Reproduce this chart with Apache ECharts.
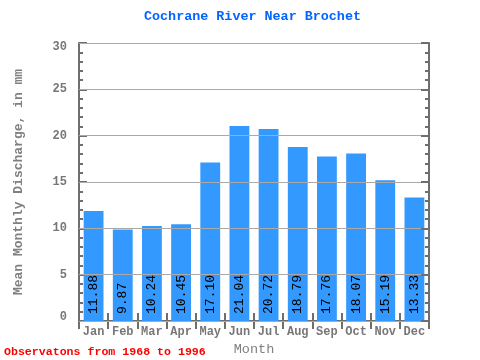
<!DOCTYPE html>
<html><head><meta charset="utf-8">
<script src="https://cdn.jsdelivr.net/npm/echarts@6/dist/echarts.min.js"></script>
<style>html,body{margin:0;padding:0;background:#fff}#c{width:480px;height:360px}</style>
</head><body><div id="c"></div>
<script>
var months = ["Jan","Feb","Mar","Apr","May","Jun","Jul","Aug","Sep","Oct","Nov","Dec"];
var discharge = [11.88, 9.87, 10.24, 10.45, 17.10, 21.04, 20.72, 18.79, 17.76, 18.07, 15.19, 13.33];
var yTicks = [0, 5, 10, 15, 20, 25, 30];
var titleText = "Cochrane River Near Brochet";
var yName = "Mean Monthly Discharge, in mm";
var xName = "Month";
var footer = "Observatons from 1968 to 1996";

var FONT = "'Liberation Mono', 'DejaVu Sans Mono', monospace";
var axisColor = "#6e6e6e";
var yMin = yTicks[0], yMax = yTicks[yTicks.length-1];
var chart = echarts.init(document.getElementById('c'), null, {renderer: 'canvas'});
var tickCommon = {show: true, inside: true, length: 8, interval: 0, lineStyle: {color: axisColor, width: 2}};
var minorCommon = {show: true, splitNumber: 5, length: 4, lineStyle: {color: axisColor, width: 2}};
var lblStyle = {fontFamily: FONT, fontSize: 12, fontWeight: 'bold', color: '#777'};
chart.setOption({
  animation: false,
  title: [{
    text: titleText, left: 144, top: 10, padding: 0,
    textStyle: {fontFamily: FONT, fontSize: 13.4, fontWeight: 'bold', color: '#0066ff'}
  }, {
    text: footer, left: 4, top: 346, padding: 0,
    textStyle: {fontFamily: FONT, fontSize: 11.6, fontWeight: 'bold', color: '#ff0000'}
  }],
  grid: {left: 79, top: 43, right: 51, bottom: 39, outerBoundsMode: 'none', containLabel: false},
  xAxis: [{
    type: 'category', data: months, position: 'bottom',
    axisLine: {lineStyle: {color: axisColor, width: 2}},
    axisTick: tickCommon,
    axisLabel: Object.assign({interval: 0, margin: 5}, lblStyle),
    name: xName, nameLocation: 'middle', nameGap: 21,
    nameTextStyle: {fontFamily: FONT, fontSize: 13.5, color: '#808080'}
  }, {
    type: 'category', data: months, position: 'top',
    axisLine: {lineStyle: {color: axisColor, width: 2}},
    axisTick: tickCommon, axisLabel: {show: false}
  }],
  yAxis: [{
    type: 'value', min: yMin, max: yMax, interval: 5,
    axisLine: {show: true, lineStyle: {color: axisColor, width: 2}},
    axisTick: tickCommon, minorTick: minorCommon,
    splitLine: {show: false},
    axisLabel: Object.assign({
      margin: 12,
      formatter: function(v){
        if (v === yMax) return '{hi|' + v + '}';
        if (v === yMin) return '{lo|' + v + '}';
        return '' + v;
      },
      rich: {
        hi: Object.assign({padding: [8, 0, 0, 0]}, lblStyle),
        lo: Object.assign({padding: [0, 0, 8, 0]}, lblStyle)
      }
    }, lblStyle),
    name: yName, nameLocation: 'middle', nameGap: 54,
    nameTextStyle: {fontFamily: FONT, fontSize: 13, fontWeight: 'bold', color: '#808080'}
  }, {
    type: 'value', min: yMin, max: yMax, interval: 5, position: 'right', z: 5,
    axisLine: {show: true, lineStyle: {color: axisColor, width: 2}},
    axisTick: tickCommon, minorTick: minorCommon,
    splitLine: {show: true, lineStyle: {color: '#aaaaaa', width: 1}},
    axisLabel: {show: false}
  }],
  series: [{
    type: 'bar', data: discharge, barWidth: '68%', xAxisIndex: 0, yAxisIndex: 0,
    itemStyle: {color: '#3399ff'},
    label: {
      show: true, position: 'insideBottom', rotate: 90, align: 'left', verticalAlign: 'middle',
      distance: 7, formatter: function(p){ return p.value.toFixed(2); },
      fontFamily: FONT, fontSize: 13, color: '#000'
    }
  }]
});
</script></body></html>
